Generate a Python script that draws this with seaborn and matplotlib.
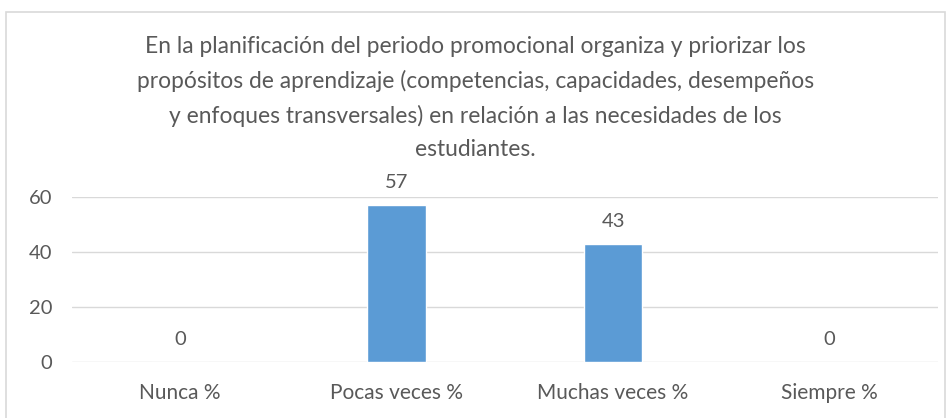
import matplotlib
matplotlib.use("Agg")
import matplotlib.pyplot as plt
import seaborn as sns
import pandas as pd
from matplotlib.patches import Rectangle

# data
categorias = ["Nunca %", "Pocas veces %", "Muchas veces %", "Siempre %"]
valores = [0, 57, 43, 0]
titulo = ("En la planificación del periodo promocional organiza y priorizar los\n"
          "propósitos de aprendizaje (competencias, capacidades, desempeños\n"
          "y enfoques transversales) en relación a las necesidades de los\n"
          "estudiantes.")

sns.set_theme(style="white")
plt.rcParams["font.family"] = ["Lato", "DejaVu Sans"]

texto = "#595959"
azul = "#5B9BD5"
gris = "#D9D9D9"

df = pd.DataFrame({"categoria": categorias, "valor": valores})

fig = plt.figure(figsize=(9.53, 4.18), dpi=100)
ax = fig.add_axes([0.0755, 0.134, 0.9085, 0.3947])

sns.barplot(data=df, x="categoria", y="valor", color=azul, width=0.27,
            saturation=1, ax=ax)

ax.set_ylim(0, 60)
ax.set_yticks([0, 20, 40, 60])
ax.yaxis.grid(True, color=gris, linewidth=1)
ax.set_axisbelow(True)
for s in ax.spines.values():
    s.set_visible(False)
ax.set_xlabel("")
ax.set_ylabel("")
ax.tick_params(axis="y", length=0, pad=14, labelsize=14.5, labelcolor=texto)
ax.tick_params(axis="x", length=0, pad=15, labelsize=15, labelcolor=texto)

for i, v in enumerate(valores):
    ax.annotate(f"{v}", (i, v), xytext=(0, 10), textcoords="offset points",
                ha="center", va="bottom", fontsize=14.5, color=texto)

fig.text(0.4985, 0.915, titulo, ha="center", va="top", fontsize=16.4,
         color=texto, linespacing=1.72)

# chart border
fig.patches.append(Rectangle((6 / 953, -0.01), 939 / 953, 1.01 - 12 / 418,
                             transform=fig.transFigure, fill=False,
                             edgecolor=gris, linewidth=1.2))

fig.savefig("out.png", dpi=100)
